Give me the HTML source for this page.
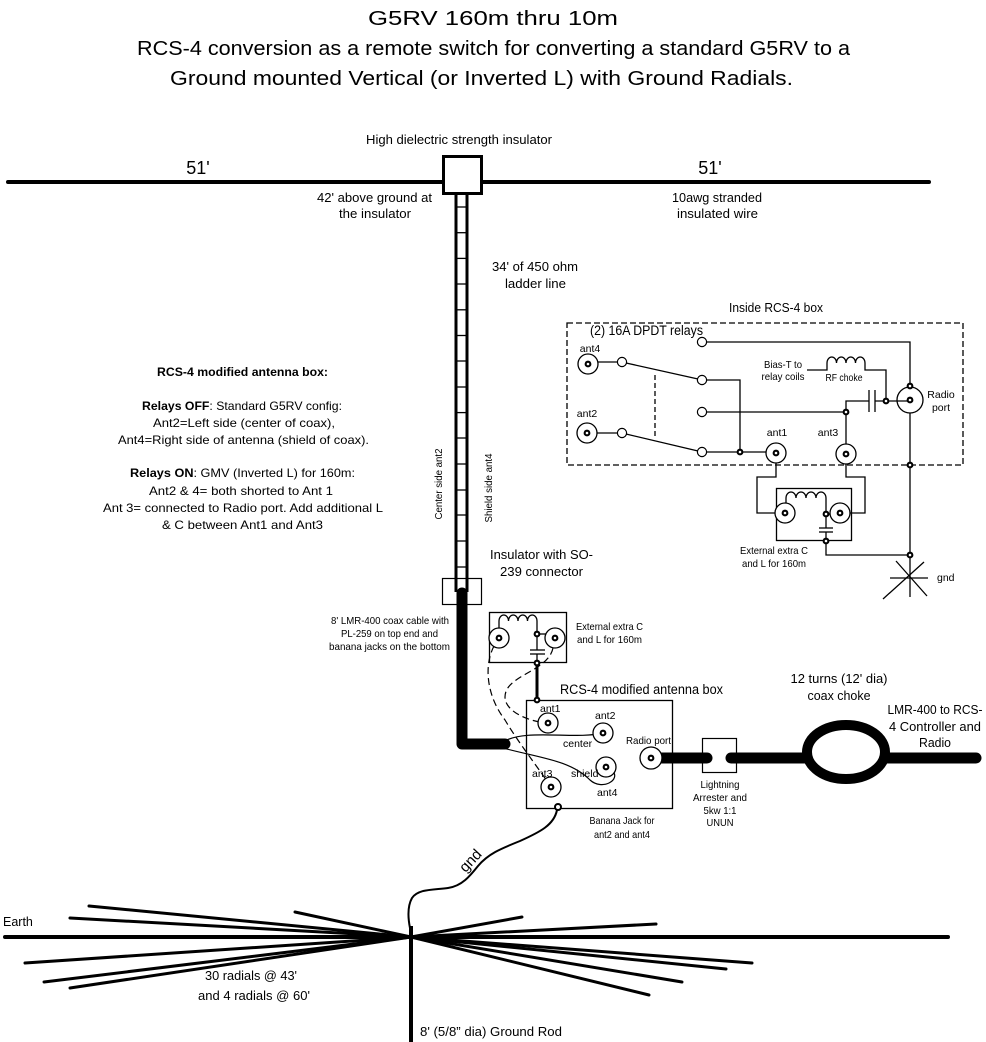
<!DOCTYPE html>
<html>
<head>
<meta charset="utf-8">
<style>
html,body{margin:0;padding:0;background:#fff;}
svg{display:block;}
text{fill:#000;}
</style>
</head>
<body>
<svg xmlns="http://www.w3.org/2000/svg" xmlns:xlink="http://www.w3.org/1999/xlink" width="986" height="1042" viewBox="0 0 986 1042" font-family="'Liberation Sans', sans-serif">
<defs>
  <g id="conn"><circle r="10" fill="#fff" stroke="#000" stroke-width="1.3"/><circle r="3.4" fill="#000"/><circle r="1.3" fill="#fff"/></g>
  <g id="dot"><circle r="3.4" fill="#000"/><circle r="1.3" fill="#fff"/></g>
  <g id="ct"><circle r="4.6" fill="#fff" stroke="#000" stroke-width="1.2"/></g>
</defs>
<rect width="986" height="1042" fill="#fff"/>

<!-- Title -->
<text x="368" y="25" font-size="20" textLength="250" lengthAdjust="spacingAndGlyphs">G5RV 160m thru 10m</text>
<text x="137" y="55" font-size="20" textLength="713" lengthAdjust="spacingAndGlyphs">RCS-4 conversion as a remote switch for converting a standard G5RV to a</text>
<text x="170" y="85" font-size="20" textLength="623" lengthAdjust="spacingAndGlyphs">Ground mounted Vertical (or Inverted L) with Ground Radials.</text>

<!-- Dipole -->
<g stroke="#000" stroke-width="4" stroke-linecap="round" fill="none">
  <line x1="8" y1="182" x2="443" y2="182"/>
  <line x1="482" y1="182" x2="929" y2="182"/>
</g>
<rect x="443.5" y="156.5" width="38" height="37" fill="#fff" stroke="#000" stroke-width="3"/>
<text x="366" y="144" font-size="12.5" textLength="186" lengthAdjust="spacingAndGlyphs">High dielectric strength insulator</text>
<text x="198" y="174" font-size="18" text-anchor="middle">51'</text>
<text x="710" y="174" font-size="18" text-anchor="middle">51'</text>
<text x="317" y="202" font-size="12.5" textLength="115" lengthAdjust="spacingAndGlyphs">42' above ground at</text>
<text x="339" y="218" font-size="12.5" textLength="72" lengthAdjust="spacingAndGlyphs">the insulator</text>
<text x="672" y="202" font-size="12.5" textLength="90" lengthAdjust="spacingAndGlyphs">10awg stranded</text>
<text x="677" y="218" font-size="12.5" textLength="81" lengthAdjust="spacingAndGlyphs">insulated wire</text>

<!-- Ladder line -->
<g stroke="#000" stroke-width="3" fill="none">
  <line x1="456" y1="194" x2="456" y2="592"/>
  <line x1="467" y1="194" x2="467" y2="592"/>
</g>
<g stroke="#000" stroke-width="1.3">
  <line x1="456" y1="207" x2="467" y2="207"/>
  <line x1="456" y1="232.7" x2="467" y2="232.7"/>
  <line x1="456" y1="258.4" x2="467" y2="258.4"/>
  <line x1="456" y1="284" x2="467" y2="284"/>
  <line x1="456" y1="309.8" x2="467" y2="309.8"/>
  <line x1="456" y1="335.5" x2="467" y2="335.5"/>
  <line x1="456" y1="361" x2="467" y2="361"/>
  <line x1="456" y1="387" x2="467" y2="387"/>
  <line x1="456" y1="412.6" x2="467" y2="412.6"/>
  <line x1="456" y1="438" x2="467" y2="438"/>
  <line x1="456" y1="464" x2="467" y2="464"/>
  <line x1="456" y1="490" x2="467" y2="490"/>
  <line x1="456" y1="515" x2="467" y2="515"/>
  <line x1="456" y1="541" x2="467" y2="541"/>
  <line x1="456" y1="567" x2="467" y2="567"/>
</g>
<text x="492" y="271" font-size="12.5" textLength="86" lengthAdjust="spacingAndGlyphs">34' of 450 ohm</text>
<text x="505" y="288" font-size="12.5" textLength="61" lengthAdjust="spacingAndGlyphs">ladder line</text>
<text transform="translate(442,484) rotate(-90)" font-size="10.5" text-anchor="middle" textLength="71" lengthAdjust="spacingAndGlyphs">Center side ant2</text>
<text transform="translate(492,488) rotate(-90)" font-size="10.5" text-anchor="middle" textLength="69" lengthAdjust="spacingAndGlyphs">Shield side ant4</text>

<!-- SO-239 insulator box and coax -->
<rect x="442.5" y="578.5" width="39" height="26" fill="none" stroke="#000" stroke-width="1.2"/>
<path d="M462,593 V744 H505" fill="none" stroke="#000" stroke-width="11" stroke-linecap="round" stroke-linejoin="round"/>
<text x="490" y="559" font-size="13" textLength="103" lengthAdjust="spacingAndGlyphs">Insulator with SO-</text>
<text x="500" y="576" font-size="13" textLength="83" lengthAdjust="spacingAndGlyphs">239 connector</text>
<text x="331" y="624" font-size="10.5" textLength="118" lengthAdjust="spacingAndGlyphs">8' LMR-400 coax cable with</text>
<text x="341" y="637" font-size="10.5" textLength="97" lengthAdjust="spacingAndGlyphs">PL-259 on top end and</text>
<text x="329" y="650" font-size="10.5" textLength="121" lengthAdjust="spacingAndGlyphs">banana jacks on the bottom</text>

<!-- Left text block -->
<g font-size="12" text-anchor="start">
  <text x="157" y="376" font-weight="bold" textLength="171" lengthAdjust="spacingAndGlyphs">RCS-4 modified antenna box:</text>
  <text x="142" y="410" textLength="200" lengthAdjust="spacingAndGlyphs"><tspan font-weight="bold">Relays OFF</tspan>: Standard G5RV config:</text>
  <text x="153" y="427" textLength="182" lengthAdjust="spacingAndGlyphs">Ant2=Left side (center of coax),</text>
  <text x="118" y="444" textLength="251" lengthAdjust="spacingAndGlyphs">Ant4=Right side of antenna (shield of coax).</text>
  <text x="130" y="477" textLength="225" lengthAdjust="spacingAndGlyphs"><tspan font-weight="bold">Relays ON</tspan>: GMV (Inverted L) for 160m:</text>
  <text x="149" y="495" textLength="184" lengthAdjust="spacingAndGlyphs">Ant2 &amp; 4= both shorted to Ant 1</text>
  <text x="103" y="512" textLength="280" lengthAdjust="spacingAndGlyphs">Ant 3= connected to Radio port. Add additional L</text>
  <text x="162" y="529" textLength="161" lengthAdjust="spacingAndGlyphs">&amp; C between Ant1 and Ant3</text>
</g>

<!-- Inside RCS-4 box -->
<text x="729" y="312" font-size="13" textLength="94" lengthAdjust="spacingAndGlyphs">Inside RCS-4 box</text>
<rect x="567" y="323" width="396" height="142" fill="none" stroke="#000" stroke-width="1.3" stroke-dasharray="6,3"/>
<text x="590" y="335" font-size="13.5" textLength="113" lengthAdjust="spacingAndGlyphs">(2) 16A DPDT relays</text>
<g stroke="#000" stroke-width="1.3" fill="none">
  <line x1="598" y1="362" x2="618" y2="362"/>
  <line x1="597" y1="433" x2="618" y2="433"/>
  <line x1="626" y1="363" x2="698" y2="379"/>
  <line x1="626" y1="434" x2="698" y2="451"/>
  <line x1="655" y1="375" x2="655" y2="438" stroke-dasharray="5,3"/>
  <path d="M706,342 H910 V386"/>
  <path d="M706,380 H740 V452"/>
  <path d="M706,412 H846"/>
  <path d="M706,452 H766"/>
  <path d="M846,444 V401 H869"/>
  <path d="M875,401 H910"/>
  <line x1="869" y1="390" x2="869" y2="412"/>
  <line x1="875" y1="390" x2="875" y2="412"/>
  <path d="M807,370 H827 V363 a4.75,6 0 0 1 9.5,0 a4.75,6 0 0 1 9.5,0 a4.75,6 0 0 1 9.5,0 a4.75,6 0 0 1 9.5,0 V370 H886 V401"/>
  <path d="M910,413 V578"/>
  <path d="M776,463 V477 H757 V513 H785"/>
  <path d="M846,464 V477 H865 V513 H840"/>
  <path d="M786,503 V498 a5,6 0 0 1 10,0 a5,6 0 0 1 10,0 a5,6 0 0 1 10,0 a5,6 0 0 1 10,0 V514 H840"/>
  <path d="M826,514 V528"/>
  <line x1="819" y1="528" x2="833" y2="528"/>
  <line x1="819" y1="532" x2="833" y2="532"/>
  <path d="M826,532 V555 H910"/>
  <!-- gnd star -->
  <line x1="890" y1="578" x2="928" y2="578"/>
  <line x1="910" y1="578" x2="910" y2="597"/>
  <line x1="896" y1="561" x2="927" y2="596"/>
  <line x1="924" y1="562" x2="883" y2="599"/>
</g>
<rect x="776.5" y="488.5" width="75" height="52" fill="none" stroke="#000" stroke-width="1.3"/>
<circle cx="910" cy="400" r="13" fill="none" stroke="#000" stroke-width="1.3"/>
<use xlink:href="#conn" x="588" y="364"/>
<use xlink:href="#conn" x="587" y="433"/>
<use xlink:href="#conn" x="776" y="453"/>
<use xlink:href="#conn" x="846" y="454"/>
<use xlink:href="#conn" x="785" y="513"/>
<use xlink:href="#conn" x="840" y="513"/>
<use xlink:href="#ct" x="622" y="362"/>
<use xlink:href="#ct" x="622" y="433"/>
<use xlink:href="#ct" x="702" y="342"/>
<use xlink:href="#ct" x="702" y="380"/>
<use xlink:href="#ct" x="702" y="412"/>
<use xlink:href="#ct" x="702" y="452"/>
<use xlink:href="#dot" x="740" y="452"/>
<use xlink:href="#dot" x="846" y="412"/>
<use xlink:href="#dot" x="886" y="401"/>
<use xlink:href="#dot" x="910" y="386"/>
<use xlink:href="#dot" x="910" y="400"/>
<use xlink:href="#dot" x="910" y="465"/>
<use xlink:href="#dot" x="826" y="514"/>
<use xlink:href="#dot" x="826" y="541"/>
<use xlink:href="#dot" x="910" y="555"/>
<g font-size="10.5">
  <text x="590" y="352" text-anchor="middle">ant4</text>
  <text x="587" y="417" text-anchor="middle">ant2</text>
  <text x="777" y="436" text-anchor="middle">ant1</text>
  <text x="828" y="436" text-anchor="middle">ant3</text>
  <text x="783" y="368" text-anchor="middle" textLength="38" lengthAdjust="spacingAndGlyphs">Bias-T to</text>
  <text x="783" y="380" text-anchor="middle" textLength="43" lengthAdjust="spacingAndGlyphs">relay coils</text>
  <text x="844" y="381" text-anchor="middle" textLength="37" lengthAdjust="spacingAndGlyphs">RF choke</text>
  <text x="941" y="398" text-anchor="middle">Radio</text>
  <text x="941" y="411" text-anchor="middle">port</text>
  <text x="937" y="581">gnd</text>
  <text x="774" y="554" text-anchor="middle" textLength="68" lengthAdjust="spacingAndGlyphs">External extra C</text>
  <text x="774" y="567" text-anchor="middle" textLength="64" lengthAdjust="spacingAndGlyphs">and L for 160m</text>
</g>

<!-- Upper external C/L box -->
<rect x="489.5" y="612.5" width="77" height="50" fill="none" stroke="#000" stroke-width="1.3"/>
<g stroke="#000" stroke-width="1.3" fill="none">
  <path d="M499,628 V621 a4.75,6 0 0 1 9.5,0 a4.75,6 0 0 1 9.5,0 a4.75,6 0 0 1 9.5,0 a4.75,6 0 0 1 9.5,0 V650"/>
  <line x1="537" y1="634" x2="546" y2="634"/>
  <line x1="530" y1="650" x2="545" y2="650"/>
  <line x1="530" y1="654" x2="545" y2="654"/>
  <line x1="537" y1="654" x2="537" y2="663"/>
</g>
<line x1="537" y1="663" x2="537" y2="700" stroke="#000" stroke-width="3"/>
<use xlink:href="#conn" x="499" y="638"/>
<use xlink:href="#conn" x="555" y="638"/>
<use xlink:href="#dot" x="537" y="634"/>
<use xlink:href="#dot" x="537" y="663"/>
<text x="576" y="630" font-size="10.5" textLength="67" lengthAdjust="spacingAndGlyphs">External extra C</text>
<text x="577" y="643" font-size="10.5" textLength="65" lengthAdjust="spacingAndGlyphs">and L for 160m</text>

<!-- RCS-4 modified antenna box -->
<text x="560" y="694" font-size="13.5" textLength="163" lengthAdjust="spacingAndGlyphs">RCS-4 modified antenna box</text>
<rect x="526.5" y="700.5" width="146" height="108" fill="none" stroke="#000" stroke-width="1.3"/>
<use xlink:href="#dot" x="537" y="700"/>
<!-- coax to lightning arrester and choke -->
<g stroke="#000" stroke-width="11" stroke-linecap="round" fill="none">
  <line x1="655" y1="758" x2="705" y2="758"/>
  <line x1="733" y1="758" x2="806" y2="758"/>
  <line x1="886" y1="758" x2="976" y2="758"/>
</g>
<rect x="702.5" y="738.5" width="34" height="34" fill="#fff" stroke="#000" stroke-width="1.2"/>
<line x1="700" y1="758" x2="707" y2="758" stroke="#000" stroke-width="11" stroke-linecap="round"/>
<line x1="731" y1="758" x2="738" y2="758" stroke="#000" stroke-width="11" stroke-linecap="round"/>
<ellipse cx="846" cy="752" rx="39" ry="27" fill="none" stroke="#000" stroke-width="10"/>
<!-- wires inside box -->
<g stroke="#000" stroke-width="1.2" fill="none">
  <path d="M503,742 C525,728 575,740 603,733"/>
  <path d="M503,748 C540,758 570,760 590,780 C602,791 622,780 612,770 L606,767"/>
  <path d="M494,646 C484,665 486,695 505,720 C520,745 540,770 551,787" stroke-dasharray="7,4"/>
  <path d="M553,648 C548,672 505,675 505,697 C505,712 530,722 548,723" stroke-dasharray="7,4"/>
</g>
<use xlink:href="#conn" x="548" y="723"/>
<use xlink:href="#conn" x="603" y="733"/>
<use xlink:href="#conn" x="606" y="767"/>
<use xlink:href="#conn" x="551" y="787"/>
<circle cx="651" cy="758" r="11" fill="#fff" stroke="#000" stroke-width="1.3"/>
<circle cx="651" cy="758" r="3.4" fill="#000"/><circle cx="651" cy="758" r="1.3" fill="#fff"/>
<circle cx="558" cy="807" r="3" fill="#fff" stroke="#000" stroke-width="2"/>
<g font-size="10.5">
  <text x="540" y="712">ant1</text>
  <text x="595" y="719">ant2</text>
  <text x="626" y="744" textLength="45" lengthAdjust="spacingAndGlyphs">Radio port</text>
  <text x="563" y="747">center</text>
  <text x="571" y="777">shield</text>
  <text x="532" y="777">ant3</text>
  <text x="597" y="796">ant4</text>
  <text x="622" y="824" text-anchor="middle" textLength="65" lengthAdjust="spacingAndGlyphs">Banana Jack for</text>
  <text x="622" y="838" text-anchor="middle" textLength="56" lengthAdjust="spacingAndGlyphs">ant2 and ant4</text>
  <text x="720" y="788" text-anchor="middle" textLength="39" lengthAdjust="spacingAndGlyphs">Lightning</text>
  <text x="720" y="801" text-anchor="middle" textLength="54" lengthAdjust="spacingAndGlyphs">Arrester and</text>
  <text x="720" y="814" text-anchor="middle" textLength="33" lengthAdjust="spacingAndGlyphs">5kw 1:1</text>
  <text x="720" y="826" text-anchor="middle" textLength="27" lengthAdjust="spacingAndGlyphs">UNUN</text>
</g>
<g font-size="13" text-anchor="middle">
  <text x="839" y="683" textLength="97" lengthAdjust="spacingAndGlyphs">12 turns (12' dia)</text>
  <text x="839" y="700" textLength="63" lengthAdjust="spacingAndGlyphs">coax choke</text>
  <text x="935" y="714" textLength="95" lengthAdjust="spacingAndGlyphs">LMR-400 to RCS-</text>
  <text x="935" y="731" textLength="92" lengthAdjust="spacingAndGlyphs">4 Controller and</text>
  <text x="935" y="747" textLength="32" lengthAdjust="spacingAndGlyphs">Radio</text>
</g>

<!-- Ground wire -->
<path d="M557,810 C554,825 540,832 520,841 C500,849 488,854 478,866 C470,876 462,886 448,888 C432,890 418,889 412,898 C407,907 408,918 410,928" fill="none" stroke="#000" stroke-width="2"/>
<text transform="translate(474,864) rotate(-47)" font-size="15" text-anchor="middle">gnd</text>

<!-- Earth and radials -->
<g stroke="#000" stroke-width="3" stroke-linecap="round">
  <line x1="411" y1="937" x2="89" y2="906"/>
  <line x1="411" y1="937" x2="70" y2="918"/>
  <line x1="411" y1="937" x2="295" y2="912"/>
  <line x1="411" y1="937" x2="25" y2="963"/>
  <line x1="411" y1="937" x2="44" y2="982"/>
  <line x1="411" y1="937" x2="70" y2="988"/>
  <line x1="411" y1="937" x2="522" y2="917"/>
  <line x1="411" y1="937" x2="656" y2="924"/>
  <line x1="411" y1="937" x2="752" y2="963"/>
  <line x1="411" y1="937" x2="726" y2="969"/>
  <line x1="411" y1="937" x2="682" y2="982"/>
  <line x1="411" y1="937" x2="649" y2="995"/>
</g>
<line x1="5" y1="937" x2="948" y2="937" stroke="#000" stroke-width="4" stroke-linecap="round"/>
<line x1="411" y1="926" x2="411" y2="1042" stroke="#000" stroke-width="4"/>
<text x="3" y="926" font-size="12.5">Earth</text>
<text x="251" y="980" font-size="13" text-anchor="middle" textLength="92" lengthAdjust="spacingAndGlyphs">30 radials @ 43'</text>
<text x="254" y="1000" font-size="13" text-anchor="middle" textLength="112" lengthAdjust="spacingAndGlyphs">and 4 radials @ 60'</text>
<text x="420" y="1036" font-size="13" textLength="142" lengthAdjust="spacingAndGlyphs">8' (5/8” dia) Ground Rod</text>
</svg>
</body>
</html>
